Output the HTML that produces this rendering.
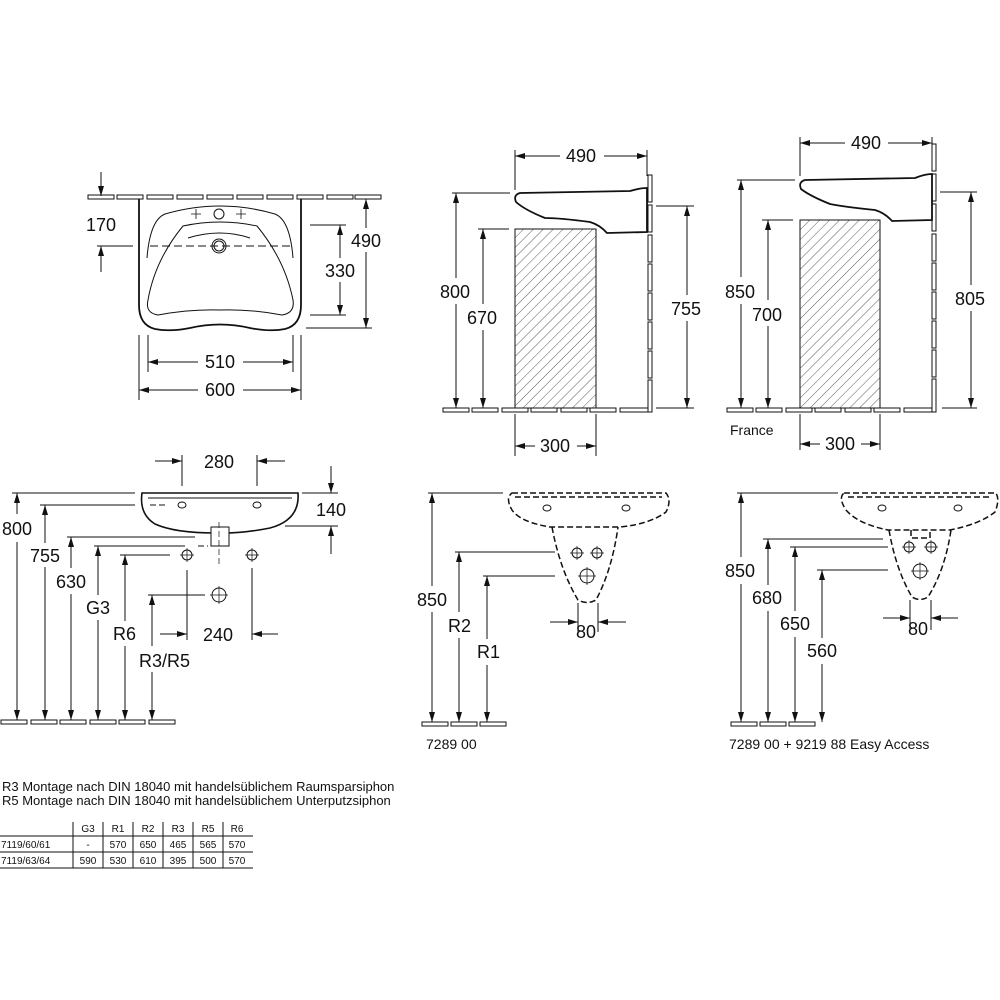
<!DOCTYPE html>
<html><head><meta charset="utf-8"><style>
html,body{margin:0;padding:0;background:#fff}
svg{display:block}
text{font-family:"Liberation Sans",sans-serif;fill:#111}
.d{font-size:18px}
</style></head><body>
<svg width="1000" height="1000" viewBox="0 0 1000 1000" xmlns="http://www.w3.org/2000/svg">
<defs>
<marker id="a" viewBox="0 0 10 6" refX="10" refY="3" markerWidth="10" markerHeight="6" orient="auto" markerUnits="userSpaceOnUse"><path d="M0,0L10,3L0,6z" fill="#111"/></marker>
<pattern id="h" width="7" height="7" patternUnits="userSpaceOnUse" patternTransform="rotate(45)"><line x1="0" y1="0" x2="0" y2="7" stroke="#333" stroke-width="0.8"/></pattern>
</defs>
<g stroke="#111" stroke-width="1" fill="none">

<!-- ===== TOP LEFT ===== -->
<g fill="#fff" stroke-width="1">
<rect x="88" y="195" width="26" height="4"/><rect x="117" y="195" width="26" height="4"/><rect x="147" y="195" width="26" height="4"/><rect x="177" y="195" width="26" height="4"/><rect x="207" y="195" width="26" height="4"/><rect x="237" y="195" width="26" height="4"/><rect x="267" y="195" width="26" height="4"/><rect x="297" y="195" width="26" height="4"/><rect x="327" y="195" width="26" height="4"/><rect x="355" y="195" width="26" height="4"/>
</g>
<path d="M139,199 V305 Q139,325 155,329 Q170,332 190,328 Q220,321 250,328 Q270,332 285,329 Q301,325 301,305 V199" stroke-width="1.8"/>
<path d="M183,226 Q220,218 257,226 Q285,260 293,300 Q295,313 282,315 Q250,309 220,310 Q190,309 158,315 Q145,313 148,300 Q155,260 183,226Z"/>
<path d="M147,258 Q150,220 165,214 Q220,198 275,214 Q290,220 293,258"/>
<path d="M188,238 Q220,228 250,238"/>
<circle cx="219" cy="214" r="5"/><circle cx="219" cy="246" r="7"/><circle cx="219" cy="246" r="5"/>
<path d="M191,214h10M196,209v10M236,214h10M241,209v10" stroke-width="0.8"/>
<!-- dims -->
<line x1="101" y1="172" x2="101" y2="196" marker-end="url(#a)"/>
<line x1="101" y1="272" x2="101" y2="246" marker-end="url(#a)"/>
<line x1="97" y1="246" x2="133" y2="246"/>
<line x1="150" y1="246" x2="290" y2="246" stroke-dasharray="8,4"/>
<line x1="310" y1="225" x2="346" y2="225"/><line x1="310" y1="315" x2="346" y2="315"/>
<line x1="340" y1="258" x2="340" y2="225" marker-end="url(#a)"/><line x1="340" y1="282" x2="340" y2="315" marker-end="url(#a)"/>
<line x1="306" y1="328" x2="372" y2="328"/>
<line x1="366" y1="228" x2="366" y2="199" marker-end="url(#a)"/><line x1="366" y1="252" x2="366" y2="328" marker-end="url(#a)"/>
<line x1="148" y1="335" x2="148" y2="372"/><line x1="293" y1="335" x2="293" y2="372"/>
<line x1="198" y1="362" x2="148" y2="362" marker-end="url(#a)"/><line x1="243" y1="362" x2="293" y2="362" marker-end="url(#a)"/>
<line x1="139" y1="335" x2="139" y2="400"/><line x1="301" y1="335" x2="301" y2="400"/>
<line x1="198" y1="390" x2="139" y2="390" marker-end="url(#a)"/><line x1="243" y1="390" x2="301" y2="390" marker-end="url(#a)"/>

<!-- ===== TOP MIDDLE ===== -->
<g fill="#fff">
<rect x="443" y="408" width="26" height="4"/><rect x="472" y="408" width="26" height="4"/><rect x="502" y="408" width="26" height="4"/><rect x="531" y="408" width="26" height="4"/><rect x="561" y="408" width="26" height="4"/><rect x="590" y="408" width="26" height="4"/><rect x="620" y="408" width="28" height="4"/>
<rect x="648" y="175" width="4" height="27"/><rect x="648" y="205" width="4" height="27"/><rect x="648" y="235" width="4" height="27"/><rect x="648" y="264" width="4" height="27"/><rect x="648" y="293" width="4" height="27"/><rect x="648" y="322" width="4" height="27"/><rect x="648" y="351" width="4" height="27"/><rect x="648" y="380" width="4" height="32"/>
</g>
<path d="M520,193 L630,191 Q640,188 647,188 V232 L607,233 Q600,225 590,222 Q560,218 545,218 Q525,210 516,202 Q513,195 520,193Z" stroke-width="1.8" fill="#fff"/>
<rect x="515" y="229" width="81" height="179" fill="url(#h)"/>
<line x1="515" y1="150" x2="515" y2="190"/><line x1="647" y1="150" x2="647" y2="176"/>
<line x1="560" y1="156" x2="515" y2="156" marker-end="url(#a)"/><line x1="604" y1="156" x2="647" y2="156" marker-end="url(#a)"/>
<line x1="452" y1="193" x2="510" y2="193"/>
<line x1="456" y1="278" x2="456" y2="193" marker-end="url(#a)"/><line x1="456" y1="304" x2="456" y2="408" marker-end="url(#a)"/>
<line x1="478" y1="229" x2="509" y2="229"/>
<line x1="483" y1="304" x2="483" y2="229" marker-end="url(#a)"/><line x1="483" y1="330" x2="483" y2="408" marker-end="url(#a)"/>
<line x1="656" y1="206" x2="694" y2="206"/><line x1="656" y1="408" x2="694" y2="408"/>
<line x1="687" y1="295" x2="687" y2="206" marker-end="url(#a)"/><line x1="687" y1="321" x2="687" y2="408" marker-end="url(#a)"/>
<line x1="515" y1="414" x2="515" y2="456"/><line x1="596" y1="414" x2="596" y2="456"/>
<line x1="535" y1="446" x2="515" y2="446" marker-end="url(#a)"/><line x1="577" y1="446" x2="596" y2="446" marker-end="url(#a)"/>

<!-- ===== TOP RIGHT ===== -->
<g fill="#fff">
<rect x="727" y="408" width="26" height="4"/><rect x="756" y="408" width="26" height="4"/><rect x="786" y="408" width="26" height="4"/><rect x="815" y="408" width="26" height="4"/><rect x="845" y="408" width="26" height="4"/><rect x="874" y="408" width="26" height="4"/><rect x="904" y="408" width="28" height="4"/>
<rect x="932" y="144" width="4" height="27"/><rect x="932" y="174" width="4" height="27"/><rect x="932" y="204" width="4" height="27"/><rect x="932" y="234" width="4" height="27"/><rect x="932" y="263" width="4" height="27"/><rect x="932" y="292" width="4" height="27"/><rect x="932" y="321" width="4" height="27"/><rect x="932" y="350" width="4" height="27"/><rect x="932" y="379" width="4" height="33"/>
</g>
<path d="M805,180 L915,178 Q925,174 932,174 V220 L892,221 Q885,213 875,210 Q845,207 830,204 Q810,196 801,189 Q798,182 805,180Z" stroke-width="1.8" fill="#fff"/>
<rect x="800" y="220" width="80" height="188" fill="url(#h)"/>
<line x1="800" y1="137" x2="800" y2="176"/><line x1="932" y1="137" x2="932" y2="160"/>
<line x1="845" y1="143" x2="800" y2="143" marker-end="url(#a)"/><line x1="888" y1="143" x2="932" y2="143" marker-end="url(#a)"/>
<line x1="737" y1="180" x2="795" y2="180"/>
<line x1="741" y1="277" x2="741" y2="180" marker-end="url(#a)"/><line x1="741" y1="304" x2="741" y2="408" marker-end="url(#a)"/>
<line x1="762" y1="220" x2="793" y2="220"/>
<line x1="768" y1="300" x2="768" y2="220" marker-end="url(#a)"/><line x1="768" y1="326" x2="768" y2="408" marker-end="url(#a)"/>
<line x1="940" y1="192" x2="977" y2="192"/><line x1="942" y1="408" x2="977" y2="408"/>
<line x1="971" y1="285" x2="971" y2="192" marker-end="url(#a)"/><line x1="971" y1="311" x2="971" y2="408" marker-end="url(#a)"/>
<line x1="800" y1="414" x2="800" y2="450"/><line x1="880" y1="414" x2="880" y2="450"/>
<line x1="820" y1="444" x2="800" y2="444" marker-end="url(#a)"/><line x1="861" y1="444" x2="880" y2="444" marker-end="url(#a)"/>

<!-- ===== BOTTOM LEFT ===== -->
<g fill="#fff">
<rect x="1" y="720" width="26" height="4"/><rect x="31" y="720" width="26" height="4"/><rect x="60" y="720" width="26" height="4"/><rect x="90" y="720" width="26" height="4"/><rect x="119" y="720" width="26" height="4"/><rect x="149" y="720" width="26" height="4"/>
</g>
<path d="M142,493 H298 Q300,520 270,528 Q240,534 215,533 Q175,533 155,524 Q139,514 142,493Z" stroke-width="1.6"/>
<path d="M148,498 H292" stroke-width="1"/>
<ellipse cx="182" cy="505" rx="4" ry="3"/><ellipse cx="257" cy="505" rx="4" ry="3"/>
<rect x="211" y="527" width="18" height="19" fill="#fff"/>
<line x1="219" y1="522" x2="219" y2="565" stroke-dasharray="6,3" stroke-width="0.7"/>
<line x1="182" y1="455" x2="182" y2="486"/><line x1="257" y1="455" x2="257" y2="486"/>
<line x1="155" y1="461" x2="182" y2="461" marker-end="url(#a)"/><line x1="285" y1="461" x2="257" y2="461" marker-end="url(#a)"/>
<line x1="302" y1="493" x2="338" y2="493"/><line x1="285" y1="526" x2="338" y2="526"/>
<line x1="331" y1="466" x2="331" y2="493" marker-end="url(#a)"/><line x1="331" y1="554" x2="331" y2="526" marker-end="url(#a)"/>
<line x1="12" y1="493" x2="135" y2="493"/>
<line x1="17" y1="514" x2="17" y2="493" marker-end="url(#a)"/><line x1="17" y1="542" x2="17" y2="720" marker-end="url(#a)"/>
<line x1="40" y1="505" x2="135" y2="505"/><line x1="150" y1="505" x2="167" y2="505" stroke-dasharray="6,3"/>
<line x1="45" y1="543" x2="45" y2="505" marker-end="url(#a)"/><line x1="45" y1="567" x2="45" y2="720" marker-end="url(#a)"/>
<line x1="67" y1="537" x2="195" y2="537"/>
<line x1="71" y1="568" x2="71" y2="537" marker-end="url(#a)"/><line x1="71" y1="594" x2="71" y2="720" marker-end="url(#a)"/>
<line x1="94" y1="546" x2="185" y2="546"/><line x1="198" y1="546" x2="208" y2="546" stroke-dasharray="6,3"/>
<line x1="98" y1="595" x2="98" y2="546" marker-end="url(#a)"/><line x1="98" y1="620" x2="98" y2="720" marker-end="url(#a)"/>
<line x1="120" y1="555" x2="170" y2="555"/>
<line x1="125" y1="621" x2="125" y2="555" marker-end="url(#a)"/><line x1="125" y1="646" x2="125" y2="720" marker-end="url(#a)"/>
<line x1="148" y1="595" x2="205" y2="595"/>
<line x1="152" y1="646" x2="152" y2="595" marker-end="url(#a)"/><line x1="152" y1="672" x2="152" y2="720" marker-end="url(#a)"/>
<circle cx="187" cy="555" r="5"/><path d="M180,555h14M187,548v14" stroke-width="0.7"/>
<circle cx="252" cy="555" r="5"/><path d="M245,555h14M252,548v14" stroke-width="0.7"/>
<circle cx="219" cy="595" r="7"/><path d="M210,595h18M219,586v18" stroke-width="0.7"/>
<line x1="187" y1="570" x2="187" y2="640"/><line x1="252" y1="568" x2="252" y2="640"/>
<line x1="160" y1="634" x2="187" y2="634" marker-end="url(#a)"/><line x1="278" y1="634" x2="252" y2="634" marker-end="url(#a)"/>

<!-- ===== BOTTOM MIDDLE ===== -->
<g fill="#fff">
<rect x="422" y="722" width="26" height="4"/><rect x="451" y="722" width="26" height="4"/><rect x="480" y="722" width="26" height="4"/>
</g>
<g stroke-dasharray="6,3" stroke-width="1.5">
<path d="M512,493 H666 Q672,500 666,512 Q650,524 620,527 H550 Q520,522 512,510 Q505,498 512,493Z"/>
<path d="M515,497 H662"/>
<path d="M552,527 Q560,570 578,600 Q587,605 596,600 Q612,570 618,527"/>
</g>
<ellipse cx="547" cy="508" rx="4" ry="3"/><ellipse cx="626" cy="508" rx="4" ry="3"/>
<circle cx="577" cy="553" r="5"/><path d="M570,553h14M577,546v14" stroke-width="0.7"/>
<circle cx="597" cy="553" r="5"/><path d="M590,553h14M597,546v14" stroke-width="0.7"/>
<circle cx="587" cy="576" r="7"/><path d="M578,576h18M587,567v18" stroke-width="0.7"/>
<line x1="428" y1="493" x2="503" y2="493"/>
<line x1="432" y1="586" x2="432" y2="493" marker-end="url(#a)"/><line x1="432" y1="612" x2="432" y2="722" marker-end="url(#a)"/>
<line x1="455" y1="552" x2="555" y2="552"/>
<line x1="459" y1="612" x2="459" y2="552" marker-end="url(#a)"/><line x1="459" y1="638" x2="459" y2="722" marker-end="url(#a)"/>
<line x1="483" y1="576" x2="555" y2="576"/>
<line x1="487" y1="639" x2="487" y2="576" marker-end="url(#a)"/><line x1="487" y1="665" x2="487" y2="722" marker-end="url(#a)"/>
<line x1="578" y1="603" x2="578" y2="632"/><line x1="598" y1="603" x2="598" y2="632"/>
<line x1="550" y1="622" x2="578" y2="622" marker-end="url(#a)"/><line x1="626" y1="622" x2="598" y2="622" marker-end="url(#a)"/>

<!-- ===== BOTTOM RIGHT ===== -->
<g fill="#fff">
<rect x="731" y="722" width="26" height="4"/><rect x="760" y="722" width="26" height="4"/><rect x="789" y="722" width="26" height="4"/>
</g>
<g stroke-dasharray="6,3" stroke-width="1.5">
<path d="M844,493 H996 Q1000,500 995,512 Q980,524 950,530 H888 Q858,524 846,510 Q838,498 844,493Z"/>
<path d="M848,497 H992"/>
<path d="M889,530 Q896,570 912,597 Q920,602 928,597 Q945,570 951,530"/>
<path d="M911,530 V538 H930 V530"/>
</g>
<ellipse cx="882" cy="508" rx="4" ry="3"/><ellipse cx="958" cy="508" rx="4" ry="3"/>
<circle cx="909" cy="547" r="5"/><path d="M902,547h14M909,540v14" stroke-width="0.7"/>
<circle cx="931" cy="547" r="5"/><path d="M924,547h14M931,540v14" stroke-width="0.7"/>
<circle cx="920" cy="571" r="7"/><path d="M911,571h18M920,562v18" stroke-width="0.7"/>
<line x1="737" y1="493" x2="838" y2="493"/>
<line x1="741" y1="557" x2="741" y2="493" marker-end="url(#a)"/><line x1="741" y1="584" x2="741" y2="722" marker-end="url(#a)"/>
<line x1="763" y1="539" x2="883" y2="539"/>
<line x1="768" y1="585" x2="768" y2="539" marker-end="url(#a)"/><line x1="768" y1="611" x2="768" y2="722" marker-end="url(#a)"/>
<line x1="790" y1="547" x2="888" y2="547"/>
<line x1="795" y1="611" x2="795" y2="547" marker-end="url(#a)"/><line x1="795" y1="637" x2="795" y2="722" marker-end="url(#a)"/>
<line x1="817" y1="570" x2="888" y2="570"/>
<line x1="822" y1="638" x2="822" y2="570" marker-end="url(#a)"/><line x1="822" y1="664" x2="822" y2="722" marker-end="url(#a)"/>
<line x1="910" y1="600" x2="910" y2="630"/><line x1="931" y1="600" x2="931" y2="630"/>
<line x1="883" y1="618" x2="910" y2="618" marker-end="url(#a)"/><line x1="958" y1="618" x2="931" y2="618" marker-end="url(#a)"/>

<!-- table lines -->
<line x1="0" y1="836" x2="253" y2="836"/><line x1="0" y1="852" x2="253" y2="852"/><line x1="0" y1="868" x2="253" y2="868"/>
<path d="M73,822V868M103,822V868M133,822V868M163,822V868M193,822V868M223,822V868"/>
</g>

<g class="d">
<text x="86" y="231">170</text>
<text x="325" y="277">330</text>
<text x="351" y="247">490</text>
<text x="205" y="368">510</text>
<text x="205" y="396">600</text>
<text x="566" y="162">490</text>
<text x="440" y="298">800</text>
<text x="467" y="324">670</text>
<text x="671" y="315">755</text>
<text x="540" y="452">300</text>
<text x="851" y="149">490</text>
<text x="725" y="298">850</text>
<text x="752" y="321">700</text>
<text x="955" y="305">805</text>
<text x="825" y="450">300</text>
<text x="204" y="468">280</text>
<text x="316" y="516">140</text>
<text x="2" y="535">800</text>
<text x="30" y="562">755</text>
<text x="56" y="588">630</text>
<text x="86" y="614">G3</text>
<text x="113" y="640">R6</text>
<text x="139" y="667">R3/R5</text>
<text x="203" y="641">240</text>
<text x="417" y="606">850</text>
<text x="448" y="632">R2</text>
<text x="477" y="658">R1</text>
<text x="576" y="638">80</text>
<text x="725" y="577">850</text>
<text x="752" y="604">680</text>
<text x="780" y="630">650</text>
<text x="807" y="657">560</text>
<text x="908" y="635">80</text>
</g>
<text x="730" y="435" font-size="14">France</text>
<text x="426" y="749" font-size="14">7289 00</text>
<text x="729" y="749" font-size="14">7289 00 + 9219 88 Easy Access</text>
<text x="2" y="791" font-size="13">R3  Montage nach DIN 18040 mit handelsüblichem Raumsparsiphon</text>
<text x="2" y="805" font-size="13">R5  Montage nach DIN 18040 mit handelsüblichem Unterputzsiphon</text>
<g font-size="10" text-anchor="middle">
<text x="88" y="832">G3</text><text x="118" y="832">R1</text><text x="148" y="832">R2</text><text x="178" y="832">R3</text><text x="208" y="832">R5</text><text x="237" y="832">R6</text>
<text x="88" y="848">-</text><text x="118" y="848">570</text><text x="148" y="848">650</text><text x="178" y="848">465</text><text x="208" y="848">565</text><text x="237" y="848">570</text>
<text x="88" y="864">590</text><text x="118" y="864">530</text><text x="148" y="864">610</text><text x="178" y="864">395</text><text x="208" y="864">500</text><text x="237" y="864">570</text>
</g>
<text x="1" y="848" font-size="10">7119/60/61</text>
<text x="1" y="864" font-size="10">7119/63/64</text>
</svg>
</body></html>
